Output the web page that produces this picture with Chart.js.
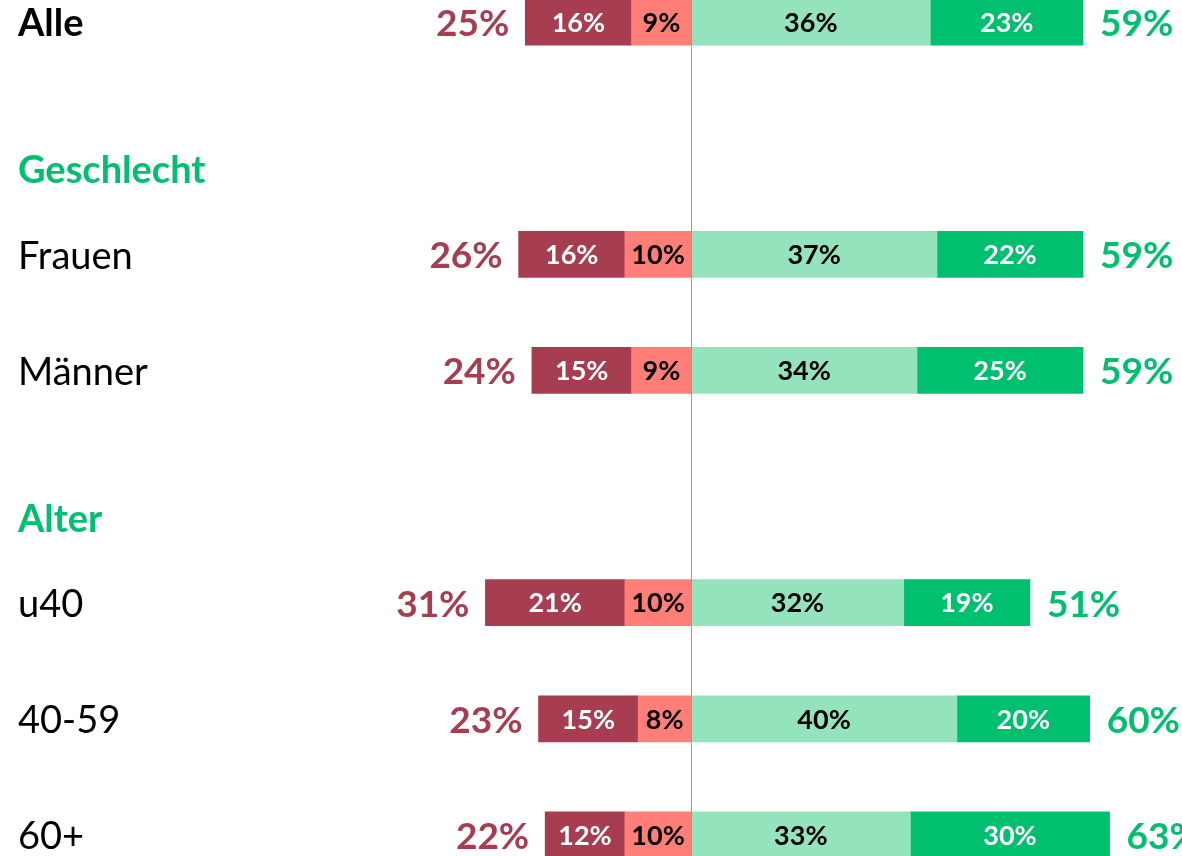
<!DOCTYPE html>
<html>
<head>
<meta charset="utf-8">
<script src="https://cdn.jsdelivr.net/npm/chart.js@4"></script>
<style>
  html, body { margin: 0; padding: 0; background: #fff; overflow: hidden; }
  #wrap { position: absolute; left: 0; top: -36px; width: 1182px; height: 929px; }
</style>
</head>
<body>
<div id="wrap"><canvas id="diagramm"></canvas></div>
<script>
// zeilen (null = überschrift ohne balken)
let kategorien = ["Alle", "Geschlecht", "Frauen", "Männer", "Alter", "u40", "40-59", "60+"];
let ueberschriften = ["Geschlecht", "Alter"];

// werte in prozent
let sehrUnzufrieden = [16, null, 16, 15, null, 21, 15, 12];
let eherUnzufrieden = [9, null, 10, 9, null, 10, 8, 10];
let eherZufrieden = [36, null, 37, 34, null, 32, 40, 33];
let sehrZufrieden = [23, null, 22, 25, null, 19, 20, 30];

// summen links und rechts
let summeNegativ = [25, null, 26, 24, null, 31, 23, 22];
let summePositiv = [59, null, 59, 59, null, 51, 60, 63];

let farben = {
  dunkelrot: "#A63D50",
  lachs: "#FF7F78",
  hellgruen: "#94E3BC",
  gruen: "#00BF6F",
};

let schrift = "Lato";

// negative werte für die linke seite
let neg = (arr) => arr.map((v) => (v === null ? null : -v));

// eigene beschriftung: zeilen, segmente, summen, nulllinie
let beschriftung = {
  id: "beschriftung",
  afterDatasetsDraw(chart) {
    let ctx = chart.ctx;
    let x = chart.scales.x;
    let y = chart.scales.y;
    let null_x = Math.round(x.getPixelForValue(0)) + 0.5;

    // nulllinie
    ctx.save();
    ctx.strokeStyle = "#9A9A9A";
    ctx.lineWidth = 1;
    ctx.beginPath();
    ctx.moveTo(null_x, 0);
    ctx.lineTo(null_x, chart.height);
    ctx.stroke();

    // werte in den segmenten
    ctx.textBaseline = "middle";
    ctx.textAlign = "center";
    ctx.font = "bold 27px " + schrift;
    chart.data.datasets.forEach((ds, di) => {
      let meta = chart.getDatasetMeta(di);
      meta.data.forEach((bar, i) => {
        if (ds.data[i] === null) return;
        ctx.fillStyle = ds.textFarbe;
        ctx.fillText(Math.abs(ds.data[i]) + "%", (bar.x + bar.base) / 2, bar.y + 1);
      });
    });

    // summen
    ctx.font = "bold 37px " + schrift;
    kategorien.forEach((k, i) => {
      if (summeNegativ[i] === null) return;
      let yy = y.getPixelForValue(i) + 2;
      ctx.fillStyle = farben.dunkelrot;
      ctx.textAlign = "right";
      ctx.fillText(summeNegativ[i] + "%", x.getPixelForValue(-summeNegativ[i]) - 16, yy);
      ctx.fillStyle = farben.gruen;
      ctx.textAlign = "left";
      ctx.fillText(summePositiv[i] + "%", x.getPixelForValue(summePositiv[i]) + 17, yy);
    });

    // zeilenbeschriftung links
    ctx.textAlign = "left";
    kategorien.forEach((k, i) => {
      let yy = y.getPixelForValue(i) + 2;
      if (ueberschriften.includes(k)) {
        ctx.font = "bold 38px " + schrift;
        ctx.fillStyle = farben.gruen;
        yy += 31;
      } else if (k === "Alle") {
        ctx.font = "bold 38px " + schrift;
        ctx.fillStyle = "#000";
      } else {
        ctx.font = "38px " + schrift;
        ctx.fillStyle = "#000";
      }
      ctx.fillText(k, 18, yy);
    });
    ctx.restore();
  },
};

new Chart(document.getElementById("diagramm"), {
  type: "bar",
  data: {
    labels: kategorien,
    datasets: [
      { data: neg(eherUnzufrieden), backgroundColor: farben.lachs, textFarbe: "#000" },
      { data: neg(sehrUnzufrieden), backgroundColor: farben.dunkelrot, textFarbe: "#fff" },
      { data: eherZufrieden, backgroundColor: farben.hellgruen, textFarbe: "#000" },
      { data: sehrZufrieden, backgroundColor: farben.gruen, textFarbe: "#fff" },
    ],
  },
  options: {
    indexAxis: "y",
    responsive: true,
    maintainAspectRatio: false,
    animation: false,
    layout: { padding: 0 },
    barThickness: 46,
    plugins: {
      legend: { display: false },
      tooltip: { enabled: false },
    },
    scales: {
      x: { stacked: true, min: -104.1, max: 73.9, display: false },
      y: { stacked: true, display: false },
    },
  },
  plugins: [beschriftung],
});
</script>
</body>
</html>
